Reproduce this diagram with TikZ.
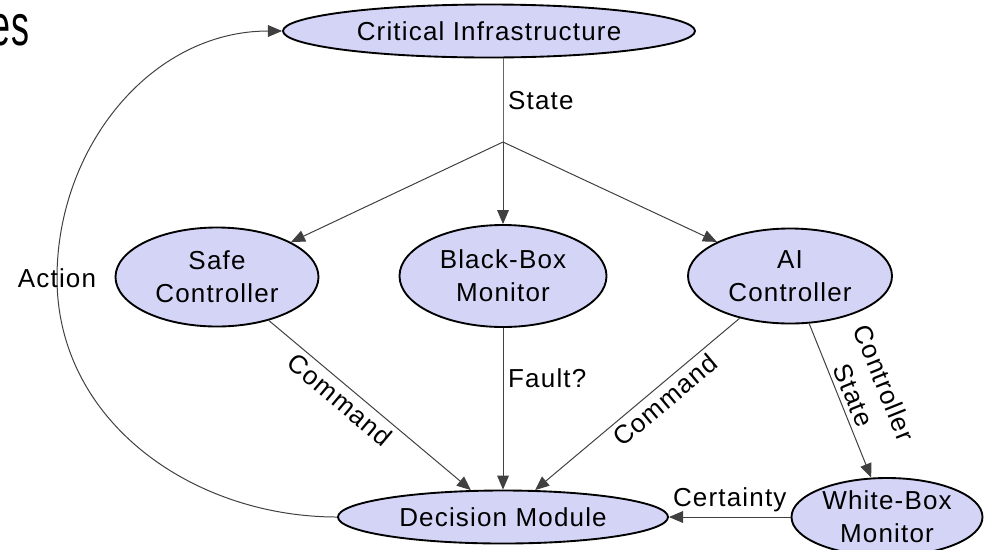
\documentclass[tikz,border=0pt]{standalone}
\usepackage{fontspec}
\setmainfont{Liberation Sans}[LetterSpace=4.5]
\usetikzlibrary{positioning,shapes.geometric,arrows.meta}
\definecolor{lavanda}{RGB}{212,212,247}
\tikzset{
  comp/.style = {ellipse, draw, line width=1.6pt, fill=lavanda, inner sep=0, align=center, font=\fontsize{22.2}{28.2}\selectfont},
  flow/.style = {draw=black!75, line width=0.85pt, -{Triangle[length=12pt,width=10pt]}},
  link/.style = {draw=black!60, line width=0.85pt},
  et/.style   = {font=\fontsize{22.2}{28.2}\selectfont, inner sep=4pt}
}
\begin{document}
\begin{tikzpicture}[x=0.03cm, y=-0.03cm]
  \useasboundingbox (0,0) rectangle (988,549);
  \clip (0,0) rectangle (988,549);
  \node[anchor=base east, inner sep=0, font=\fontsize{49.5}{50}\selectfont] (tit) at (30,45) {\scalebox{0.62}[1]{es}};

  \node[comp, minimum width=12.36cm, minimum height=1.59cm] (ci) at (489,31)  {Critical Infrastructure};
  \node[comp, minimum width=6.09cm,  minimum height=2.97cm] (sc) at (217,277) {Safe\\Controller};
  \node[comp, minimum width=6.21cm,  minimum height=3.06cm] (bb) at (503,276) {Black-Box\\Monitor};
  \node[comp, minimum width=6.12cm,  minimum height=2.85cm] (ai) at (790,276) {AI\\Controller};
  \node[comp, minimum width=9.9cm,   minimum height=1.59cm] (dm) at (503,517) {Decision Module};
  \node[comp, minimum width=5.73cm,  minimum height=2.34cm] (wb) at (887,517) {White-Box\\Monitor};

  \coordinate (j) at (503,142);
  \draw[link] (j |- ci.south) -- (j) node[et, midway, right] {State};
  \draw[flow] (j) -- (sc);  \draw[flow] (j) -- (bb);  \draw[flow] (j) -- (ai);

  \draw[flow] (sc) -- (dm) node[et, pos=0.4, sloped, below] {Command};
  \draw[flow] (bb) -- (dm) node[et, pos=0.31, right] {Fault?};
  \draw[flow] (ai) -- (dm) node[et, pos=0.41, sloped, below] {Command};
  \draw[flow] (ai) -- (wb) node[et, pos=0.5, sloped, above, align=center] {Controller\\State};
  \draw[flow] (wb) -- (dm) node[et, midway, above] {Certainty};

  % feedback loop
  \coordinate (bend) at (57,278);
  \draw[flow] (dm.west) to[out=180,in=-90] (bend) node[et] {Action} to[out=90,in=180] (ci.west);
\end{tikzpicture}
\end{document}
